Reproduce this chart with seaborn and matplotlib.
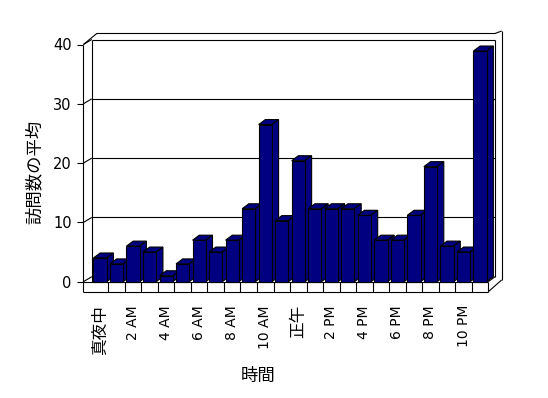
import pandas as pd
import matplotlib
matplotlib.use("Agg")
import matplotlib.pyplot as plt
from matplotlib.patches import Polygon
import seaborn as sns


hours = ["真夜中", "1 AM", "2 AM", "3 AM", "4 AM", "5 AM", "6 AM", "7 AM",
         "8 AM", "9 AM", "10 AM", "11 AM", "正午", "1 PM", "2 PM", "3 PM",
         "4 PM", "5 PM", "6 PM", "7 PM", "8 PM", "9 PM", "10 PM", "11 PM"]
visits = [4, 3, 6, 5, 1, 3, 7, 5, 7, 12.3, 26.5, 10.3,
          20.4, 12.3, 12.3, 12.3, 11.2, 7, 7, 11.2, 19.4, 6, 5, 38.9]
y_ticks = [0, 10, 20, 30, 40]

sns.set_style("white")
plt.rcParams["font.family"] = ["DejaVu Sans", "Noto Sans CJK JP"]
plt.rcParams["text.color"] = "black"
plt.rcParams["axes.labelcolor"] = "black"
plt.rcParams["xtick.color"] = "black"
plt.rcParams["ytick.color"] = "black"

W, H = 548, 398
fig = plt.figure(figsize=(W / 100, H / 100), dpi=100)
# axes = front plane of the bars (pixel box 91.8..488.3 x 44.5..281.7)
ax_px = (91.8, 44.5, 488.3, 281.7)
ax = fig.add_axes([ax_px[0] / W, 1 - ax_px[3] / H,
                   (ax_px[2] - ax_px[0]) / W, (ax_px[3] - ax_px[1]) / H])

df = pd.DataFrame({"hour": hours, "visits": visits})
sns.barplot(data=df, x="hour", y="visits", color="#000080", saturation=1,
            width=0.8, edgecolor="black", linewidth=0.8, ax=ax)
n = len(hours)
ymax = y_ticks[-1]
ax.set_xlim(-0.5, n - 0.5)
ax.set_ylim(0, ymax)

# pixel -> data helpers
ux = (ax_px[2] - ax_px[0]) / n
uy = (ax_px[3] - ax_px[1]) / ymax
dx, dy = 6.7 / ux, 5.0 / uy          # bar / wall depth
wall = 8.4 / ux                      # side wall thickness
floor = 10.0 / uy                    # floor thickness
left, right = -0.5, n - 0.5

# 3d faces for the bars
face = "#000080"
for i, p in enumerate(ax.patches):
    x0, w, h = p.get_x(), p.get_width(), p.get_height()
    x1 = x0 + w
    z = 3 + i * 0.01
    p.set_zorder(z + 0.005)
    p.set_clip_on(False)
    top = Polygon([(x0, h), (x0 + dx, h + dy), (x1 + dx, h + dy), (x1, h)],
                  closed=True, facecolor=face, edgecolor="black", lw=0.8,
                  zorder=z, clip_on=False)
    side = Polygon([(x1, 0), (x1, h), (x1 + dx, h + dy), (x1 + dx, dy)],
                   closed=True, facecolor=face, edgecolor="black", lw=0.8,
                   zorder=z, clip_on=False)
    ax.add_patch(top)
    ax.add_patch(side)


def line(xs, ys, z=2):
    ax.plot(xs, ys, color="black", lw=0.8, zorder=z, clip_on=False,
            solid_capstyle="butt")


# back wall gridlines + side wall ticks
for v in y_ticks:
    if v > 0:
        line([left, right + dx], [v + dy, v + dy], z=1)
    line([left - wall, left], [v, v + dy])
    line([left - wall - 6.6 / ux, left - wall], [v, v])

# walls and floor outline
line([left - wall, left - wall], [-floor, ymax])
line([left, left], [0, ymax + dy])
line([left - wall, left + 0.3, right + dx, right + 2 * dx],
     [ymax, ymax + 11.0 / uy, ymax + 11.0 / uy, ymax + 13.5 / uy])
line([right + 2 * dx, right + 2 * dx], [ymax + 13.5 / uy, 0.3])
line([right + 2 * dx, right], [0.3, -floor])
line([right + dx, right + dx], [dy, ymax + dy])
line([right, right + dx], [0, dy])
line([left - wall, right], [-floor, -floor])
line([left - wall, right], [0, 0])
for k in range(1, n + 1):
    line([k - 0.5, k - 0.5], [-floor, 0])

ax.set_xticks(range(0, n, 2))
ax.set_xticklabels(hours[::2], rotation=90, fontsize=10, va="top", ha="center")
for t in ax.get_xticklabels():
    if not t.get_text()[0].isdigit():
        t.set_fontsize(12)
ax.set_yticks(y_ticks)
ax.set_yticklabels([str(v) for v in y_ticks], fontsize=10.5)
ax.tick_params(axis="x", length=0, pad=16.8, labelcolor="black")
ax.tick_params(axis="y", length=0, pad=14.5, labelcolor="black")
for s in ax.spines.values():
    s.set_visible(False)

ax.set_xlabel("時間", fontsize=12.5, color="black")
ax.set_ylabel("訪問数の平均", fontsize=12.5, color="black")
ax.xaxis.set_label_coords((258 - ax_px[0]) / (ax_px[2] - ax_px[0]),
                          (ax_px[3] - 376) / (ax_px[3] - ax_px[1]))
ax.yaxis.set_label_coords((35 - ax_px[0]) / (ax_px[2] - ax_px[0]),
                          (ax_px[3] - 172) / (ax_px[3] - ax_px[1]))
ax.xaxis.label.set_va("center")
ax.yaxis.label.set_va("center")

fig.savefig("out.png", dpi=100, facecolor="white")
